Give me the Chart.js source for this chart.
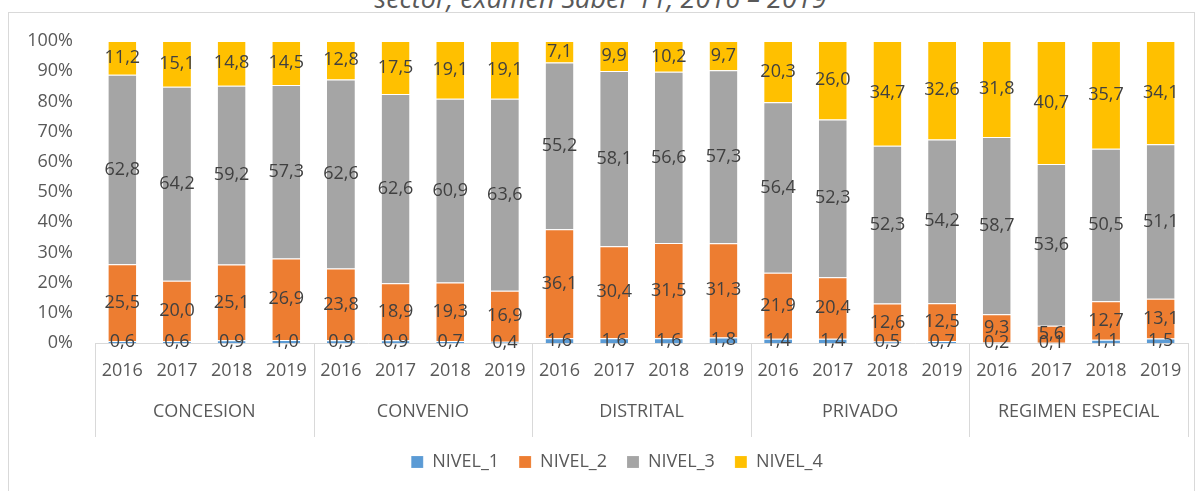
<!DOCTYPE html>
<html>
<head>
<meta charset="utf-8">
<script src="https://cdn.jsdelivr.net/npm/chart.js@4"></script>
<style>
  html, body { margin: 0; padding: 0; background: #fff; }
  #wrap { position: relative; width: 1201px; height: 491px; overflow: hidden; }
  #frame { position: absolute; left: 8px; top: 12px; width: 1187px; height: 500px; border: 1px solid #d9d9d9; box-sizing: border-box; }
  #title { position: absolute; left: 0; width: 1201px; top: -21px; text-align: center; font-family: "Open Sans", sans-serif; font-style: italic; font-size: 27px; color: #595959; white-space: nowrap; }
  canvas { position: absolute; left: 0; top: 0; }
</style>
</head>
<body>
<div id="wrap">
  <div id="frame"></div>
  <div id="title">sector, examen Saber 11, 2016 – 2019</div>
  <canvas id="myChart" width="1201" height="491"></canvas>
</div>
<script>
// sectors and years (20 bars)
const sectors = ['CONCESION', 'CONVENIO', 'DISTRITAL', 'PRIVADO', 'REGIMEN ESPECIAL']
const years = ['2016', '2017', '2018', '2019']
const levels = ['NIVEL_1', 'NIVEL_2', 'NIVEL_3', 'NIVEL_4']
const colors = ['#5B9BD5', '#ED7D31', '#A5A5A5', '#FFC000']

// values (%)
const nivel1 = [0.6, 0.6, 0.9, 1.0, 0.9, 0.9, 0.7, 0.4, 1.6, 1.6, 1.6, 1.8, 1.4, 1.4, 0.5, 0.7, 0.2, 0.1, 1.1, 1.5]
const nivel2 = [25.5, 20.0, 25.1, 26.9, 23.8, 18.9, 19.3, 16.9, 36.1, 30.4, 31.5, 31.3, 21.9, 20.4, 12.6, 12.5, 9.3, 5.6, 12.7, 13.1]
const nivel3 = [62.8, 64.2, 59.2, 57.3, 62.6, 62.6, 60.9, 63.6, 55.2, 58.1, 56.6, 57.3, 56.4, 52.3, 52.3, 54.2, 58.7, 53.6, 50.5, 51.1]
const nivel4 = [11.2, 15.1, 14.8, 14.5, 12.8, 17.5, 19.1, 19.1, 7.1, 9.9, 10.2, 9.7, 20.3, 26.0, 34.7, 32.6, 31.8, 40.7, 35.7, 34.1]

const series = [nivel1, nivel2, nivel3, nivel4]
const labels = []
sectors.forEach(() => years.forEach(y => labels.push(y)))

// 100% stacked: share of each bar's total
const totals = nivel1.map((v, i) => nivel1[i] + nivel2[i] + nivel3[i] + nivel4[i])

const TXT = '#595959'
const FONT = "'Open Sans', sans-serif"

const datasets = series.map((s, k) => ({
  label: levels[k],
  data: s.map((v, i) => v / totals[i] * 100),
  raw: s,
  backgroundColor: colors[k],
  borderColor: 'rgba(255,255,255,0.6)',
  borderWidth: {top: 1},
  borderSkipped: 'bottom',
  categoryPercentage: 1,
  barPercentage: 0.51,
}))

// value labels in the middle of every segment
const valueLabels = {
  id: 'valueLabels',
  afterDatasetsDraw(chart) {
    const ctx = chart.ctx
    ctx.save()
    ctx.font = '18px ' + FONT
    ctx.fillStyle = '#404040'
    ctx.textAlign = 'center'
    ctx.textBaseline = 'middle'
    chart.data.datasets.forEach((ds, k) => {
      chart.getDatasetMeta(k).data.forEach((el, i) => {
        const txt = ds.raw[i].toFixed(1).replace('.', ',')
        ctx.fillText(txt, el.x, (el.y + el.base) / 2)
      })
    })
    ctx.restore()
  }
}

// sector names and separators under the years
const groupAxis = {
  id: 'groupAxis',
  afterLayout(chart) {
    // legend sits a bit right of centre in the original
    chart.legend.left += 23
    chart.legend.right += 23
  },
  afterDraw(chart) {
    const ctx = chart.ctx
    const x = chart.scales.x
    const step = x.getPixelForValue(1) - x.getPixelForValue(0)
    const top = chart.chartArea.bottom
    ctx.save()
    ctx.strokeStyle = '#d9d9d9'
    ctx.lineWidth = 1
    for (let g = 0; g <= sectors.length; g++) {
      const px = Math.round(x.getPixelForValue(g * 4) - step / 2) + 0.5
      ctx.beginPath()
      ctx.moveTo(px, top)
      ctx.lineTo(px, top + 94)
      ctx.stroke()
    }
    ctx.font = '18px ' + FONT
    ctx.fillStyle = TXT
    ctx.textAlign = 'center'
    ctx.textBaseline = 'middle'
    sectors.forEach((s, g) => {
      const cx = (x.getPixelForValue(g * 4) + x.getPixelForValue(g * 4 + 3)) / 2
      ctx.fillText(s, cx, top + 69)
    })
    ctx.restore()
  }
}

new Chart(document.getElementById('myChart'), {
  type: 'bar',
  data: { labels: labels, datasets: datasets },
  options: {
    responsive: false,
    animation: false,
    layout: { padding: { top: 41, right: 13, left: 0, bottom: 10 } },
    plugins: {
      legend: {
        position: 'bottom',
        labels: { font: { family: FONT, size: 18 }, color: TXT, boxWidth: 12, boxHeight: 12, padding: 20 }
      },
      tooltip: { enabled: false },
    },
    scales: {
      x: {
        stacked: true,
        grid: { display: false, drawTicks: false },
        border: { display: true, color: '#d9d9d9' },
        ticks: { font: { family: FONT, size: 18 }, color: TXT, padding: 17, maxRotation: 0, autoSkip: false },
        afterFit(scale) { scale.height = 90 },
      },
      y: {
        stacked: true,
        min: 0, max: 100,
        grid: { display: false, drawTicks: false },
        border: { display: false },
        ticks: { stepSize: 10, font: { family: FONT, size: 18 }, color: TXT, padding: 22, callback: v => v + '%' },
        afterFit(scale) { scale.width = 95 },
      }
    }
  },
  plugins: [valueLabels, groupAxis]
})
</script>
</body>
</html>
